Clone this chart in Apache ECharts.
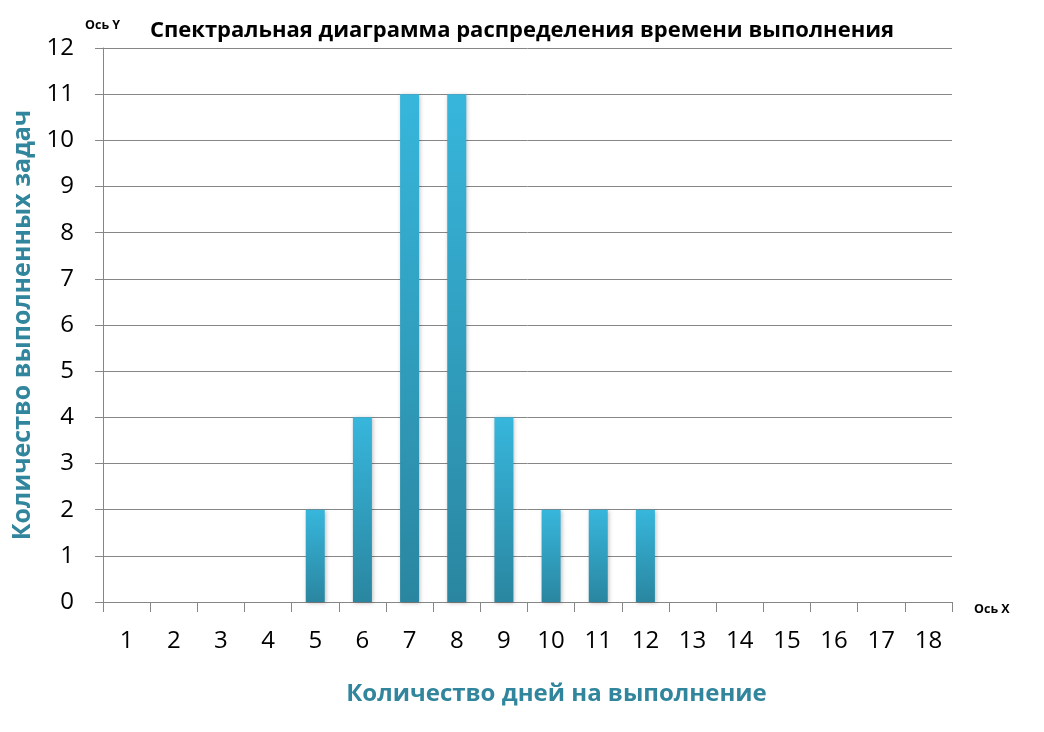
<!DOCTYPE html>
<html><head><meta charset="utf-8">
<script src="https://cdn.jsdelivr.net/npm/echarts@6/dist/echarts.min.js"></script>
<style>html,body{margin:0;padding:0;background:#fff}#c{width:1044px;height:732px}</style>
</head><body><div id="c"></div>
<script>
const categories = ['1','2','3','4','5','6','7','8','9','10','11','12','13','14','15','16','17','18'];
const values = [0,0,0,0,2,4,11,11,4,2,2,2,0,0,0,0,0,0];
const yTicks = {min:0, max:12, interval:1};
const titleText = 'Спектральная диаграмма распределения времени выполнения';
const xName = 'Количество дней на выполнение';
const yName = 'Количество выполненных задач';
const font = '"Open Sans", "Noto Sans", sans-serif';
const teal = '#31859C';
const chart = echarts.init(document.getElementById('c'), null, {renderer:'canvas'});
chart.setOption({
  animation:false,
  title:[
    {text:titleText, left:'center', top:15, textStyle:{fontFamily:font, fontSize:22, fontWeight:'bold', color:'#000'}},
    {text:'Ось Y', left:80, top:14, textStyle:{fontFamily:font, fontSize:12.5, fontWeight:'bold', color:'#000'}},
    {text:'Ось X', left:969, top:598, textStyle:{fontFamily:font, fontSize:12.5, fontWeight:'bold', color:'#000'}}
  ],
  grid:{left:103, right:92, top:48, bottom:130, containLabel:false},
  xAxis:{
    type:'category', data:categories,
    name:xName, nameLocation:'middle', nameGap:80,
    nameTextStyle:{fontFamily:font, fontSize:24, fontWeight:'bold', color:teal, padding:[0,0,0,58]},
    axisLine:{lineStyle:{color:'#868686', width:1}},
    axisTick:{show:true, length:10, lineStyle:{color:'#868686'}},
    axisLabel:{fontFamily:font, fontSize:24, color:'#000', margin:27}
  },
  yAxis:{
    type:'value', min:yTicks.min, max:yTicks.max, interval:yTicks.interval,
    name:yName, nameLocation:'middle', nameGap:65, nameRotate:90,
    nameTextStyle:{fontFamily:font, fontSize:25, fontWeight:'bold', color:teal},
    axisLine:{show:true, lineStyle:{color:'#868686', width:1}},
    axisTick:{show:true, length:8, lineStyle:{color:'#868686'}},
    axisLabel:{fontFamily:font, fontSize:24, color:'#000', margin:29},
    splitLine:{lineStyle:{color:'#868686', width:1}}
  },
  series:[{
    type:'bar', data:values, barWidth:19,
    itemStyle:{
      color:new echarts.graphic.LinearGradient(0,0,0,1,[{offset:0,color:'#37B6DC'},{offset:1,color:'#2A86A0'}]),
      shadowColor:'rgba(0,0,0,0.25)', shadowBlur:4, shadowOffsetX:1, shadowOffsetY:1
    }
  }]
});
</script></body></html>
